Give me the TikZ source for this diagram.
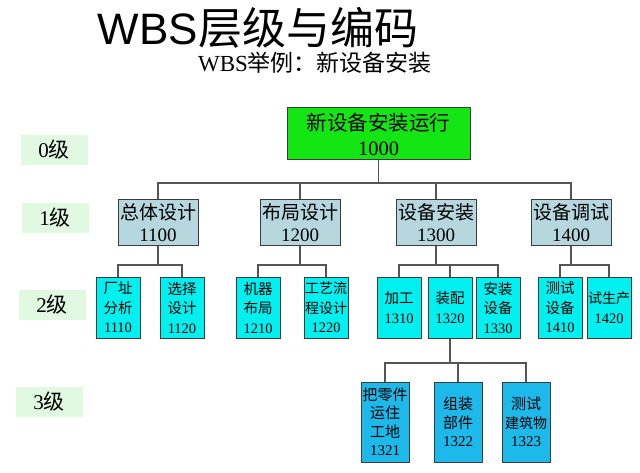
\documentclass[tikz,border=0pt]{standalone}
\usepackage{fontspec}
\usepackage{xcolor}
\setmainfont{Liberation Serif}
\newfontfamily\cjk{Noto Sans CJK SC}
\newfontfamily\headfont{Liberation Sans}
\newcommand{\zh}[1]{{\cjk #1}}
\newcommand{\zhs}[1]{{\cjk\fontsize{14}{19}\selectfont #1}}
\definecolor{rootgreen}{RGB}{20,230,20}
\definecolor{phaseblue}{RGB}{183,215,222}
\definecolor{taskcyan}{RGB}{0,240,240}
\definecolor{workblue}{RGB}{30,185,235}
\definecolor{lvlgreen}{RGB}{225,248,225}
\definecolor{linegray}{RGB}{85,85,85}
\definecolor{edgegray}{RGB}{60,60,60}

\begin{document}
\begin{tikzpicture}[x=1pt,y=-1pt,
  lvl/.style={fill=lvlgreen, minimum width=67pt, minimum height=30pt, inner sep=0pt,
    font=\fontsize{21}{21}\selectfont},
  box/.style={draw=edgegray, line width=1pt, align=center, inner sep=0pt},
  root/.style={box, fill=rootgreen, minimum width=183pt, minimum height=52pt,
    font=\fontsize{20.5}{25}\selectfont},
  phase/.style={box, fill=phaseblue, minimum width=80pt, minimum height=46pt,
    font=\fontsize{19}{22}\selectfont},
  task/.style={box, fill=taskcyan, minimum width=44pt, minimum height=61pt,
    font=\fontsize{14.5}{19.5}\selectfont},
  work/.style={box, fill=workblue, minimum width=48pt, minimum height=80pt,
    font=\fontsize{15}{18.5}\selectfont},
  link/.style={draw=linegray, line width=1.2pt}]
  \useasboundingbox (0,0) rectangle (640,473);

  % titles
  \node (title) at (258,28) {\fontsize{44}{44}\selectfont\headfont WBS\zh{层级与编码}};
  \node (subtitle) at (315,63) {\fontsize{23}{23}\selectfont WBS\zh{举例：新设备安装}};

  % level labels
  \node[lvl] (lv0) at (54,150) {0\zh{级}};
  \node[lvl] (lv1) at (55,218) {1\zh{级}};
  \node[lvl] (lv2) at (52,305) {2\zh{级}};
  \node[lvl] (lv3) at (49,402) {3\zh{级}};

  % bar heights
  \coordinate (bar0) at (0,183);
  \coordinate (bar1) at (0,265);
  \coordinate (bar2) at (0,363);

  % level 0
  \node[root] (p1000) at (378.5,134) {\zh{新设备安装运行}\\1000};

  % level 1
  \node[phase] (p1100) at (158,223) {\zh{总体设计}\\1100};
  \node[phase] (p1200) at (300,223) {\zh{布局设计}\\1200};
  \node[phase] (p1300) at (436,223) {\zh{设备安装}\\1300};
  \node[phase] (p1400) at (571,223) {\zh{设备调试}\\1400};

  % level 2
  \node[task] (p1110) at (118,307.5) {\zh{厂址}\\\zh{分析}\\1110};
  \node[task] (p1120) at (182,307.5) {\zh{选择}\\\zh{设计}\\1120};
  \node[task] (p1210) at (258,307.5) {\zh{机器}\\\zh{布局}\\1210};
  \node[task] (p1220) at (326,307.5) {\zhs{工艺流}\\\zhs{程设计}\\1220};
  \node[task] (p1310) at (399,307.5) {\zh{加工}\\1310};
  \node[task] (p1320) at (450,307.5) {\zh{装配}\\1320};
  \node[task] (p1330) at (498,307.5) {\zh{安装}\\\zh{设备}\\1330};
  \node[task] (p1410) at (560,307.5) {\zh{测试}\\\zh{设备}\\1410};
  \node[task] (p1420) at (609,307.5) {\zhs{试生产}\\1420};

  % level 3
  \node[work] (p1321) at (385,422) {\zh{把零件}\\\zh{运住}\\\zh{工地}\\1321};
  \node[work] (p1322) at (458,422) {\zh{组装}\\\zh{部件}\\1322};
  \node[work] (p1323) at (526,422) {\zh{测试}\\\zhs{建筑物}\\1323};

  % connectors
  \foreach \c in {p1100,p1200,p1300,p1400}
    \draw[link] (p1000.south) -- (p1000.south |- bar0) -| (\c.north);
  \foreach \p/\c in {p1100/p1110,p1100/p1120,p1200/p1210,p1200/p1220,
                     p1300/p1310,p1300/p1320,p1300/p1330,p1400/p1410,p1400/p1420}
    \draw[link] (\p.south) -- (\p.south |- bar1) -| (\c.north);
  \foreach \c in {p1321,p1322,p1323}
    \draw[link] (p1320.south) -- (p1320.south |- bar2) -| (\c.north);
\end{tikzpicture}
\end{document}
